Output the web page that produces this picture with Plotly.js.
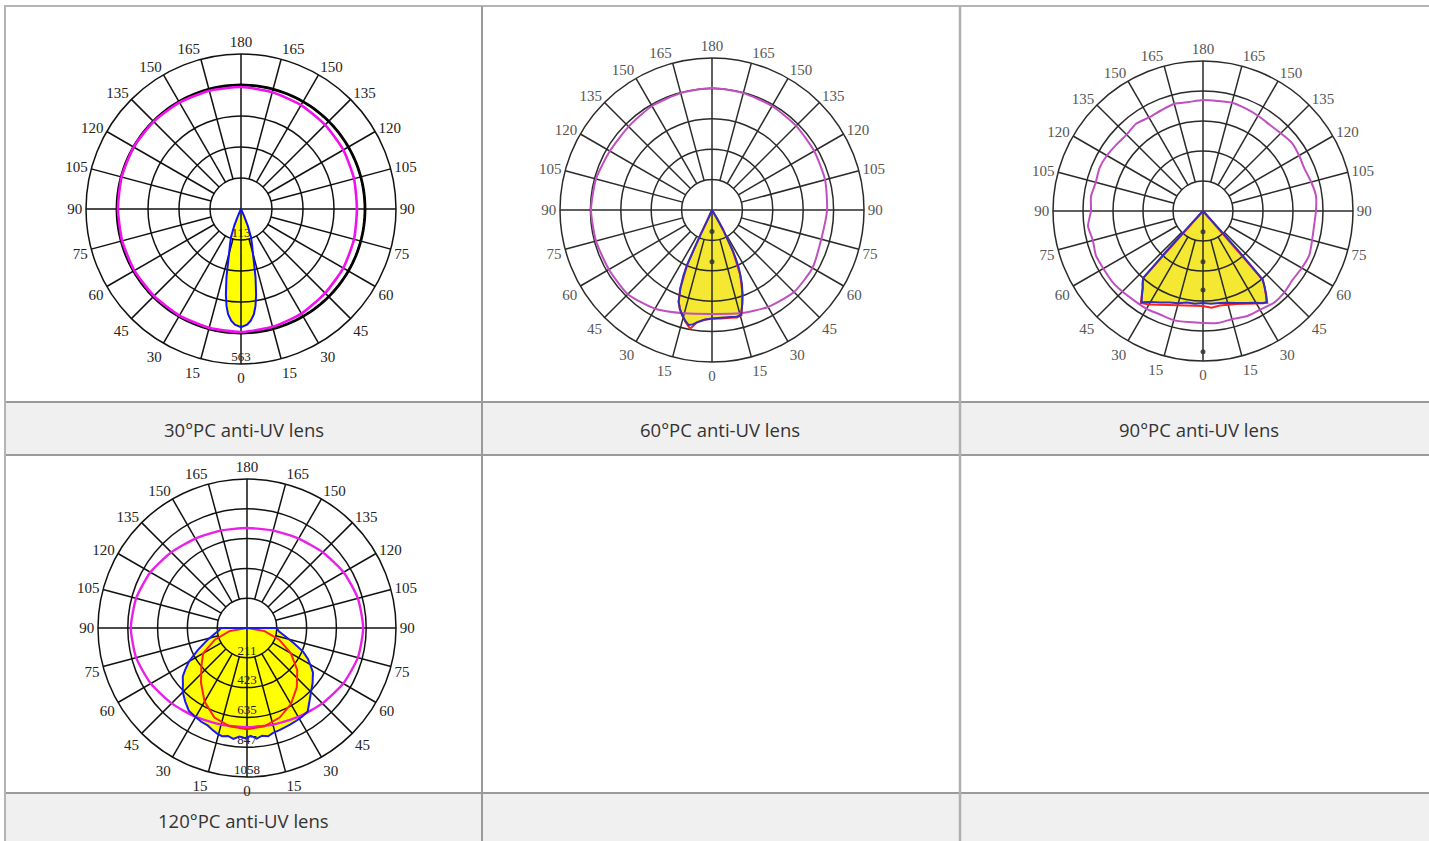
<!DOCTYPE html>
<html>
<head>
<meta charset="utf-8">
<script src="https://cdn.plot.ly/plotly-3.0.1.min.js"></script>
<style>
html,body{margin:0;padding:0;background:#fff;}
#chart{width:1429px;height:841px;}
</style>
</head>
<body>
<div id="chart"></div>
<script>
// ---------------- DATA ----------------
const captions = ["30°PC anti-UV lens", "60°PC anti-UV lens", "90°PC anti-UV lens", "120°PC anti-UV lens"];

const angleTicks = [0,15,30,45,60,75,90,105,120,135,150,165,180,195,210,225,240,255,270,285,300,315,330,345];
const angleTickText = ["0","15","30","45","60","75","90","105","120","135","150","165","180","165","150","135","120","105","90","75","60","45","30","15"];

// chart 1 : 30° lens (cd)
const c1Rings = [112.6, 225.2, 337.8, 450.4, 563];
const c1LabelR = [112.6, 563];
const c1Labels = ["113", "563"];
const c1LobeTheta = [-25,-24,-22,-19.5,-17,-15,-13.5,-12,-10,-8.5,-7,-5,-3,0,3,5,7,8.5,10,12,13.5,15,17,19.5,22,24,25];
const c1LobeR     = [0,29,65,109,138,167,203,254,316,356,385,407,421,429,421,407,385,356,316,254,203,167,138,109,65,29,0];
const c1MagTheta = [0,15,30,45,60,75,90,105,120,135,150,165,180,195,210,225,240,255,270,285,300,315,330,345];
const c1MagR     = [447,443,439,432,429,425,421,425,429,432,436,439,443,445,447,449,450,449,447,447,447,447,447,447];

// chart 2 : 60° lens (% of scale)
const c2Rings = [20, 40, 60, 80, 100];
const c2DotR = [14.2, 34];
const c2LobeTheta = [-20,-23,-25,-24.6,-24.4,-23.5,-22,-20,-18,-15.9,-13.5,-11.5,-9.5,-7.6,-4,0,5,10,13,15.5,18,20,22,23.5,25,26,27,28,29.5,31,33];
const c2LobeR     = [0,5.3,18.4,29.6,39.5,47.4,55.6,64.2,68.4,71.7,75.0,77.2,76.3,74.6,72.4,71.3,71.1,71.4,72.1,71.7,64.5,58.6,52.6,46.7,41.5,36.2,30.3,21.7,14.5,6.6,0];
const c2RedTheta = [-20,-25,-24.4,-22,-20,-18,-15.9,-13.5,-11.5,-10.4,-9,-7.6,-4,0,5,10,13,15.5,18,20,23.5,27,29.5,33];
const c2RedR     = [0,18.4,39.5,55.6,64.2,68.4,71.9,75.5,78.0,79.3,77.0,74.6,72.4,71.5,71.6,72.0,72.6,72.0,64.5,58.6,46.7,30.3,14.5,0];
const c2MagTheta = [0,15,30,45,60,75,90,105,120,135,150,165,180,195,210,225,240,255,270,285,300,315,330,345];
const c2MagR     = [68.4,70.4,73.7,76.3,76.3,74.4,75.7,77.0,77.6,78.3,79.0,79.6,80.3,79.6,79.0,77.6,77.6,79.0,79.6,79.0,78.3,78.3,75.0,70.4];

// chart 3 : 90° lens (% of scale)
const c3Rings = [20, 40, 60, 80, 100];
const c3DotR = [13.8, 33.8, 52.6, 93.8];
const c3LobeTheta = [-43.2,-42.8,-42.3,-41.7,-40,-38,-36,-34,-30,-25,-20,-15,-10,-5,0,5,10,15,20,25,30,33,35,37,39,41,41.7,42.2,42.6];
const c3LobeR     = [0,13.3,36.7,60.0,62.7,65.3,69.3,73.3,70.0,67.3,65.0,63.7,62.0,62.0,61.3,62.0,62.3,63.3,65.3,67.7,70.7,73.3,74.0,70.0,65.3,60.7,40.0,16.7,0];
const c3RedTheta = [-43.2,-41.7,-38,-34,-30,-20,-10,0,5,10,20,30,35,39,41,42.6];
const c3RedR     = [0,60.0,65.3,74.0,72.0,66.7,64.0,63.3,64.7,64.0,66.0,71.3,74.7,65.3,60.7,0];
const c3MagTheta = [0,7.5,15,22.5,30,37.5,45,52.5,60,67.5,75,82.5,90,97.5,105,112.5,120,127.5,135,142.5,150,157.5,165,172.5,180,187.5,195,202.5,210,217.5,225,232.5,240,247.5,255,262.5,270,277.5,285,292.5,300,307.5,315,322.5,330,337.5,345,352.5];
const c3MagR     = [74.7,75.3,74.7,76.0,76.0,77.3,76.7,75.3,76.0,76.7,75.3,74.7,75.3,76.0,74.7,73.3,74.0,74.7,73.3,72.7,73.3,74.0,74.7,74.0,74.0,73.3,74.0,72.7,72.0,73.3,72.0,72.7,74.0,74.7,74.0,75.3,74.7,77.3,76.0,77.3,76.7,76.7,76.0,75.3,75.3,74.7,75.3,74.7];

// chart 4 : 120° lens (cd)
const c4Rings = [211.6, 423.2, 634.8, 846.4, 1058];
const c4Labels = ["211", "423", "635", "847", "1058"];
const c4LobeTheta = [-90,-85,-80,-73,-66,-60,-56,-53,-49,-45,-40,-35,-30,-26,-22,-19,-16,-13,-10,-7,-4,-1,2,5,8,11,14,17,20,24,28,32,36,40,45,50,56,60,63,67,72,78,84,90];
const c4LobeR     = [185,201,233,296,381,476,529,571,603,645,682,719,730,741,746,762,778,788,778,794,772,783,767,788,772,783,767,762,756,751,746,741,733,688,643,608,565,518,486,434,350,275,227,212];
const c4RedTheta = [-90,-80,-70,-60,-50,-40,-30,-20,-10,0,10,20,30,40,50,60,70,80,90];
const c4RedR     = [0,127,243,360,423,508,603,677,709,719,709,677,624,550,466,360,243,127,0];
const c4MagTheta = [0,15,30,45,60,75,90,105,120,135,150,165,180,195,210,225,240,255,270,285,300,315,330,345];
const c4MagR     = [704,710,729,757,789,815,825,815,792,760,733,716,710,716,733,760,792,815,825,815,789,757,729,710];

// ---------------- LAYOUT HELPERS ----------------
const W = 1429, H = 841;
const px = x => x / W;
const py = y => 1 - y / H;
function dom(cx, cy, R) { return {x: [px(cx - R), px(cx + R)], y: [py(cy + R), py(cy - R)]}; }
function closed(a) { return a.concat([a[0]]); }

const charts = [
  {cx: 241, cy: 209, R: 155, rings: c1Rings, lobeT: c1LobeTheta, lobeR: c1LobeR, magT: c1MagTheta, magR: c1MagR,
   labelR: c1LabelR, labels: c1Labels,
   yellow: '#ffff00', blue: '#1010ff', mag: '#f010f0', magW: 2.6, grid: '#111', tickColor: '#222'},
  {cx: 712, cy: 210, R: 152, rings: c2Rings, lobeT: c2LobeTheta, lobeR: c2LobeR, magT: c2MagTheta, magR: c2MagR,
   redT: c2RedTheta, redR: c2RedR, dots: c2DotR,
   yellow: '#f4e832', blue: '#3030c0', mag: '#c050c0', magW: 2, grid: '#2a2a2a', tickColor: '#555'},
  {cx: 1203, cy: 211, R: 150, rings: c3Rings, lobeT: c3LobeTheta, lobeR: c3LobeR, magT: c3MagTheta, magR: c3MagR,
   redT: c3RedTheta, redR: c3RedR, dots: c3DotR,
   yellow: '#f4e832', blue: '#3030c0', mag: '#c050c0', magW: 2, grid: '#2a2a2a', tickColor: '#555'},
  {cx: 247, cy: 628, R: 149, rings: c4Rings, lobeT: c4LobeTheta, lobeR: c4LobeR, magT: c4MagTheta, magR: c4MagR,
   redT: c4RedTheta, redR: c4RedR, labelR: c4Rings, labels: c4Labels,
   yellow: '#ffff00', blue: '#1a1aee', mag: '#e820e8', magW: 2.4, grid: '#111', tickColor: '#222'}
];

const traces = [];
const layout = {
  width: W, height: H, margin: {l: 0, r: 0, t: 0, b: 0},
  paper_bgcolor: '#ffffff', showlegend: false,
  shapes: [], annotations: []
};

charts.forEach((c, i) => {
  const bottomId = i === 0 ? 'polar' : 'polar' + (i + 1);
  const topId = 'polar' + (i + 5);
  const rmax = c.rings[c.rings.length - 1];
  const d = dom(c.cx, c.cy, c.R);

  layout[bottomId] = {
    domain: d, bgcolor: '#ffffff',
    radialaxis: {visible: false, range: [0, rmax]},
    angularaxis: {visible: false, rotation: -90, direction: 'counterclockwise'}
  };
  layout[topId] = {
    domain: d, bgcolor: 'rgba(0,0,0,0)',
    radialaxis: {range: [0, rmax], tickmode: 'array', tickvals: c.rings, showticklabels: false,
                 ticks: '', showline: false, showgrid: true, gridcolor: c.grid, gridwidth: 1.5},
    angularaxis: {rotation: -90, direction: 'counterclockwise', tickmode: 'array',
                  tickvals: angleTicks, ticktext: angleTickText, showgrid: false, ticks: '',
                  showline: true, linecolor: c.grid, linewidth: 1.5,
                  tickfont: {family: 'Liberation Serif, DejaVu Serif, serif', size: 15, color: c.tickColor}}
  };

  // yellow filled lobe
  traces.push({type: 'scatterpolar', subplot: bottomId, mode: 'lines', r: c.lobeR, theta: c.lobeT,
    fill: 'toself', fillcolor: c.yellow, line: {width: 0, color: c.yellow}, hoverinfo: 'skip'});

  // spokes (grid) on top subplot
  const sT = [], sR = [];
  angleTicks.forEach(a => {
    sT.push(a, a, null);
    sR.push(a % 90 === 0 ? 0 : c.rings[0], rmax, null);
  });
  traces.push({type: 'scatterpolar', subplot: topId, mode: 'lines', r: sR, theta: sT,
    line: {color: c.grid, width: 1.5}, hoverinfo: 'skip'});

  if (i === 0) {
    const ringT = [];
    for (let a = 0; a <= 360; a += 2) ringT.push(a);
    traces.push({type: 'scatterpolar', subplot: topId, mode: 'lines', r: ringT.map(() => c.rings[3]), theta: ringT,
      line: {color: '#000', width: 2.8}, hoverinfo: 'skip'});
  }
  if (c.dots) {
    traces.push({type: 'scatterpolar', subplot: topId, mode: 'markers', r: c.dots, theta: c.dots.map(() => 0),
      marker: {size: 5, color: '#333', opacity: 0.85}, hoverinfo: 'skip'});
  }
  if (c.labels) {
    traces.push({type: 'scatterpolar', subplot: topId, mode: 'text', r: c.labelR, theta: c.labelR.map(() => 0),
      text: c.labels, textposition: 'top center',
      textfont: {family: 'Liberation Serif, serif', size: 13, color: '#222'}, hoverinfo: 'skip'});
  }
  // magenta curve
  traces.push({type: 'scatterpolar', subplot: topId, mode: 'lines', r: closed(c.magR), theta: closed(c.magT),
    line: {color: c.mag, width: c.magW, shape: 'spline', smoothing: 0.6}, hoverinfo: 'skip'});
  // red curve
  if (c.redR) {
    traces.push({type: 'scatterpolar', subplot: topId, mode: 'lines', r: c.redR, theta: c.redT,
      line: {color: '#ff2020', width: 2}, hoverinfo: 'skip'});
  }
  // blue outline
  traces.push({type: 'scatterpolar', subplot: topId, mode: 'lines', r: closed(c.lobeR), theta: closed(c.lobeT),
    line: {color: c.blue, width: 2}, hoverinfo: 'skip'});
});

// ---------------- TABLE ----------------
const gray = '#9a9a9a';
function hline(y, x0, x1, col, w) {
  layout.shapes.push({type: 'line', xref: 'paper', yref: 'paper', x0: px(x0), x1: px(x1), y0: py(y), y1: py(y),
    line: {color: col, width: w}, layer: 'below'});
}
function vline(x, y0, y1, col, w) {
  layout.shapes.push({type: 'line', xref: 'paper', yref: 'paper', x0: px(x), x1: px(x), y0: py(y0), y1: py(y1),
    line: {color: col, width: w}, layer: 'below'});
}
function rect(x0, y0, x1, y1, fill) {
  layout.shapes.push({type: 'rect', xref: 'paper', yref: 'paper', x0: px(x0), x1: px(x1), y0: py(y1), y1: py(y0),
    fillcolor: fill, line: {width: 0}, layer: 'below'});
}
rect(5, 402, 1429, 455, '#f0f0f0');
rect(5, 793, 1429, 845, '#f0f0f0');
hline(6, 4, 1429, '#b4b4b4', 2);
hline(402, 5, 1429, gray, 2);
hline(455, 5, 1429, gray, 2);
hline(793, 5, 1429, gray, 2);
vline(5, 5, 841, '#b4b4b4', 2);
vline(482, 6, 841, gray, 2);
vline(960, 6, 841, '#b0b0b0', 2.5);

const capPos = [[243.5, 429], [720.5, 429], [1198.5, 429], [243.5, 820]];
captions.forEach((t, i) => {
  layout.annotations.push({text: t, xref: 'paper', yref: 'paper', x: px(capPos[i][0]), y: py(capPos[i][1]),
    xanchor: 'center', yanchor: 'middle', showarrow: false,
    font: {family: 'Open Sans, Liberation Sans, sans-serif', size: 18.5, color: '#333'}});
});

Plotly.newPlot('chart', traces, layout, {staticPlot: true, displayModeBar: false});
</script>
</body>
</html>
